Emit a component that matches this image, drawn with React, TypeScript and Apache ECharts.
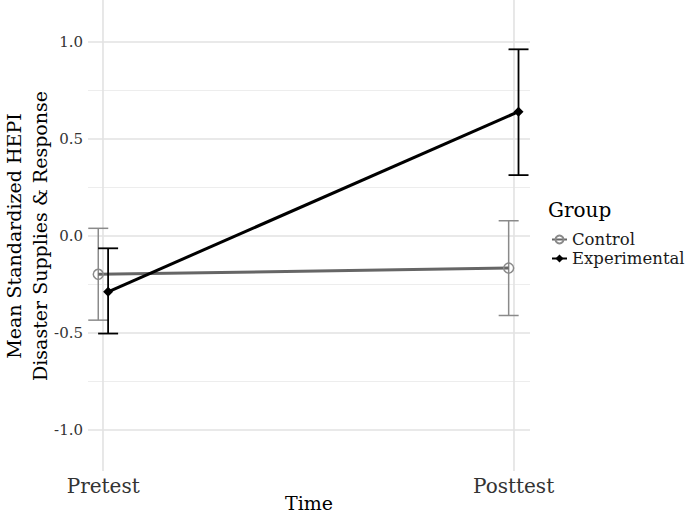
import React, { useEffect, useRef } from "react";
import * as echarts from "echarts";

const timeLabels = ["Pretest", "Posttest"];
const groups = ["Control", "Experimental"];
const dodge = [-0.012, 0.012];
const controlMean = [-0.197, -0.165];
const controlLower = [-0.433, -0.409];
const controlUpper = [0.04, 0.079];
const expMean = [-0.287, 0.641];
const expLower = [-0.502, 0.314];
const expUpper = [-0.063, 0.962];
const yMajor = [-1, -0.5, 0, 0.5, 1];
const yMinor = [-0.75, -0.25, 0.25, 0.75];

const FONT = "DejaVu Serif";

export default function App() {
  const ref = useRef<HTMLDivElement>(null);
  useEffect(() => {
    if (!ref.current) return;
    const chart = echarts.init(ref.current, null, { renderer: "svg" });

    const pts = (mean: number[], g: number) => mean.map((m, i) => [i + dodge[g], m]);
    const errs = (lo: number[], hi: number[], g: number) =>
      lo.map((l, i) => [i + dodge[g], l, hi[i]]);

    const errRender = (color: string, width: number) => (params: any, api: any) => {
      const x = api.value(0);
      const lo = api.coord([x, api.value(1)]);
      const hi = api.coord([x, api.value(2)]);
      const hw = 10;
      const style = { stroke: color, lineWidth: width };
      return {
        type: "group",
        children: [
          { type: "line", shape: { x1: lo[0], y1: lo[1], x2: hi[0], y2: hi[1] }, style },
          { type: "line", shape: { x1: lo[0] - hw, y1: lo[1], x2: lo[0] + hw, y2: lo[1] }, style },
          { type: "line", shape: { x1: hi[0] - hw, y1: hi[1], x2: hi[0] + hw, y2: hi[1] }, style },
        ],
      };
    };

    chart.setOption({
      animation: false,
      backgroundColor: "#ffffff",
      grid: { left: 88, right: 155, top: 0, bottom: 43 },
      xAxis: {
        type: "value",
        min: -0.037,
        max: 1.04,
        axisLine: { show: false },
        axisTick: { show: false, customValues: [0, 1] },
        axisLabel: {
          customValues: [0, 1],
          formatter: (v: number) => timeLabels[Math.round(v)],
          fontFamily: FONT,
          fontSize: 20,
          color: "#333333",
          margin: 5,
        },
        splitLine: { show: true, lineStyle: { color: "#e2e2e2", width: 1.6 } },
      },
      yAxis: [
        {
          type: "value",
          min: -1.21,
          max: 1.216,
          axisLine: { show: false },
          axisTick: { show: false, customValues: yMajor },
          axisLabel: {
            customValues: yMajor,
            formatter: (v: number) => v.toFixed(1),
            fontFamily: FONT,
            fontSize: 15,
            color: "#333333",
            margin: 5,
          },
          splitLine: { show: true, lineStyle: { color: "#e2e2e2", width: 1.6 } },
        },
        {
          type: "value",
          min: -1.21,
          max: 1.216,
          position: "left",
          axisLine: { show: false },
          axisTick: { show: false, customValues: yMinor },
          axisLabel: { show: false },
          splitLine: { show: true, lineStyle: { color: "#ebebeb", width: 0.9 } },
        },
      ],
      legend: {
        orient: "vertical",
        left: 546,
        top: 226,
        itemWidth: 15,
        itemHeight: 10,
        itemGap: 2,
        textStyle: { fontFamily: FONT, fontSize: 16.5, lineHeight: 16, color: "#1a1a1a" },
        data: groups,
      },
      series: [
        {
          name: groups[0] + "_err",
          type: "custom",
          renderItem: errRender("#8a8a8a", 1.5),
          data: errs(controlLower, controlUpper, 0),
          encode: { x: 0, y: [1, 2] },
          z: 2,
        },
        {
          name: groups[0],
          type: "line",
          data: pts(controlMean, 0),
          symbol: "circle",
          symbolSize: 10,
          lineStyle: { color: "#666666", width: 3 },
          itemStyle: { color: "rgba(0,0,0,0)", borderColor: "#8a8a8a", borderWidth: 1.5 },
          z: 3,
        },
        {
          name: groups[1] + "_err",
          type: "custom",
          renderItem: errRender("#000000", 1.8),
          data: errs(expLower, expUpper, 1),
          encode: { x: 0, y: [1, 2] },
          z: 4,
        },
        {
          name: groups[1],
          type: "line",
          data: pts(expMean, 1),
          symbol: "diamond",
          symbolSize: 10,
          lineStyle: { color: "#000000", width: 3 },
          itemStyle: { color: "#000000" },
          z: 5,
        },
      ],
      graphic: [
        {
          type: "text",
          x: 309,
          y: 503,
          style: {
            text: "Time",
            fontFamily: FONT,
            fontSize: 19,
            fill: "#000000",
            textAlign: "center",
            textVerticalAlign: "middle",
          },
        },
        {
          type: "text",
          x: 548,
          y: 210,
          style: {
            text: "Group",
            fontFamily: FONT,
            fontSize: 20,
            fill: "#000000",
            textAlign: "left",
            textVerticalAlign: "middle",
          },
        },
        {
          type: "text",
          x: 27,
          y: 236,
          rotation: Math.PI / 2,
          style: {
            text: "Mean Standardized HEPI\nDisaster Supplies & Response",
            fontFamily: FONT,
            fontSize: 19,
            lineHeight: 26,
            fill: "#000000",
            textAlign: "center",
            textVerticalAlign: "middle",
          },
        },
      ],
    });
    return () => chart.dispose();
  }, []);
  return (
    <div
      ref={ref}
      style={{ position: "absolute", left: 0, top: 0, width: 685, height: 514 }}
    />
  );
}
